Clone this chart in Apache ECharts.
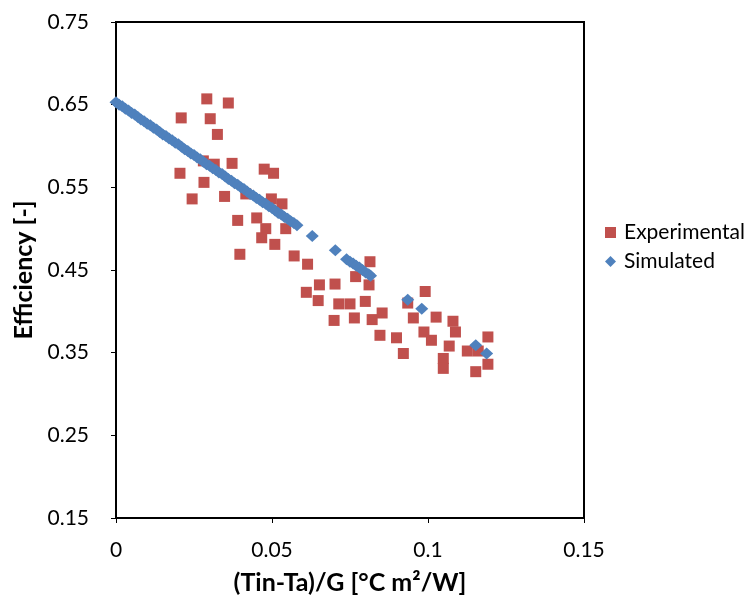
<!DOCTYPE html>
<html>
<head>
<meta charset="utf-8">
<script src="https://cdn.jsdelivr.net/npm/echarts@6/dist/echarts.min.js"></script>
<style>
  html, body { margin: 0; padding: 0; background: #fff; }
  #chart { width: 747px; height: 598px; }
</style>
</head>
<body>
<div id="chart"></div>
<script>
  // measured points, [x, efficiency]
  const experimental = [
    [0.0291, 0.657], [0.0360, 0.652], [0.0209, 0.634], [0.0302, 0.633], [0.0325, 0.614],
    [0.0280, 0.582], [0.0315, 0.578], [0.0372, 0.579], [0.0205, 0.567], [0.0475, 0.572],
    [0.0505, 0.567], [0.0282, 0.556], [0.0348, 0.539], [0.0244, 0.536], [0.0416, 0.542],
    [0.0498, 0.536], [0.0532, 0.530], [0.0390, 0.510], [0.0451, 0.513], [0.0480, 0.500],
    [0.0544, 0.500], [0.0467, 0.489], [0.0509, 0.481], [0.0397, 0.469], [0.0571, 0.467],
    [0.0614, 0.457], [0.0814, 0.460], [0.0768, 0.442], [0.0652, 0.432], [0.0702, 0.433],
    [0.0811, 0.432], [0.0610, 0.423], [0.0648, 0.413], [0.0714, 0.409], [0.0750, 0.409],
    [0.0799, 0.412], [0.0853, 0.398], [0.0699, 0.389], [0.0764, 0.392], [0.0821, 0.390],
    [0.0846, 0.371], [0.0899, 0.368], [0.0921, 0.349], [0.0991, 0.424], [0.0935, 0.410],
    [0.0953, 0.392], [0.1026, 0.393], [0.1080, 0.388], [0.1088, 0.375], [0.0987, 0.375],
    [0.1011, 0.365], [0.1068, 0.358], [0.1049, 0.343], [0.1049, 0.331], [0.1126, 0.352],
    [0.1161, 0.352], [0.1192, 0.369], [0.1192, 0.336], [0.1153, 0.327]
  ]

  // simulated points (dense band read at small x steps, then the sparse ones)
  const simulated = [
    [0, 0.653], [0.001, 0.650], [0.002, 0.648], [0.003, 0.645], [0.004, 0.643],
    [0.005, 0.640], [0.006, 0.638], [0.007, 0.635], [0.008, 0.632], [0.009, 0.630],
    [0.010, 0.627], [0.011, 0.625], [0.012, 0.622], [0.013, 0.620], [0.014, 0.617],
    [0.015, 0.614], [0.016, 0.612], [0.017, 0.609], [0.018, 0.607], [0.019, 0.604],
    [0.020, 0.602], [0.021, 0.599], [0.022, 0.596], [0.023, 0.594], [0.024, 0.591],
    [0.025, 0.589], [0.026, 0.586], [0.027, 0.584], [0.028, 0.581], [0.029, 0.578],
    [0.030, 0.576], [0.031, 0.573], [0.032, 0.571], [0.033, 0.568], [0.034, 0.566],
    [0.035, 0.563], [0.036, 0.560], [0.037, 0.558], [0.038, 0.555], [0.039, 0.553],
    [0.040, 0.550], [0.041, 0.548], [0.042, 0.545], [0.043, 0.542], [0.044, 0.540],
    [0.045, 0.537], [0.046, 0.535], [0.047, 0.532], [0.048, 0.530], [0.049, 0.527],
    [0.050, 0.525], [0.051, 0.522], [0.052, 0.519], [0.053, 0.517], [0.054, 0.514],
    [0.055, 0.512], [0.056, 0.509], [0.057, 0.507], [0.058, 0.504],
    [0.0629, 0.491], [0.0703, 0.474],
    [0.0739, 0.463], [0.075, 0.460], [0.076, 0.458], [0.077, 0.455], [0.078, 0.453],
    [0.079, 0.450], [0.080, 0.447], [0.081, 0.445], [0.0816, 0.443],
    [0.0935, 0.414], [0.098, 0.403], [0.1153, 0.359], [0.1188, 0.349]
  ]

  const xTicks = { min: 0, max: 0.15, interval: 0.05 }
  const yTicks = { min: 0.15, max: 0.75, interval: 0.1 }

  const font = 'Lato, "Open Sans", sans-serif'
  const myChart = echarts.init(document.getElementById('chart'))

  const option = {
    animation: false,
    textStyle: { fontFamily: font },
    grid: {
      left: 116,
      right: 163,
      top: 22,
      bottom: 80,
      outerBoundsMode: 'none',
      containLabel: false,
      show: true,
      borderColor: '#000',
      borderWidth: 2,
      backgroundColor: 'transparent'
    },
    legend: {
      orient: 'vertical',
      left: 600,
      top: 217,
      itemWidth: 11,
      itemHeight: 11,
      itemGap: 8,
      textStyle: { fontSize: 21, color: '#000', fontFamily: font, padding: [0, 0, 0, 3] },
      data: [
        { name: 'Experimental', icon: 'rect' },
        { name: 'Simulated', icon: 'diamond' }
      ]
    },
    xAxis: {
      type: 'value',
      min: xTicks.min,
      max: xTicks.max,
      interval: xTicks.interval,
      name: '(Tin-Ta)/G [°C m²/W]',
      nameLocation: 'middle',
      nameGap: 52,
      nameTextStyle: { fontSize: 25, fontWeight: 'bold', color: '#000', fontFamily: font },
      axisLine: { show: true, lineStyle: { color: '#000', width: 2 } },
      axisTick: { show: true, length: 5, lineStyle: { color: '#000', width: 1 } },
      axisLabel: { fontSize: 21, color: '#000', margin: 22, fontFamily: font },
      splitLine: { show: false }
    },
    yAxis: {
      type: 'value',
      min: yTicks.min,
      max: yTicks.max,
      interval: yTicks.interval,
      name: 'Efficiency [-]',
      nameLocation: 'middle',
      nameGap: 78,
      nameTextStyle: { fontSize: 25, fontWeight: 'bold', color: '#000', fontFamily: font },
      axisLine: { show: true, lineStyle: { color: '#000', width: 2 } },
      axisTick: { show: true, length: 5, lineStyle: { color: '#000', width: 1 } },
      axisLabel: {
        fontSize: 21,
        color: '#000',
        margin: 27,
        fontFamily: font,
        formatter: v => v.toFixed(2)
      },
      splitLine: { show: false }
    },
    series: [
      {
        name: 'Experimental',
        type: 'scatter',
        symbol: 'rect',
        symbolSize: 11,
        itemStyle: { color: '#C0504D', opacity: 1 },
        data: experimental
      },
      {
        name: 'Simulated',
        type: 'scatter',
        symbol: 'diamond',
        symbolSize: [13, 12],
        itemStyle: { color: '#4F81BD', opacity: 1 },
        data: simulated
      }
    ]
  }

  myChart.setOption(option)
</script>
</body>
</html>
